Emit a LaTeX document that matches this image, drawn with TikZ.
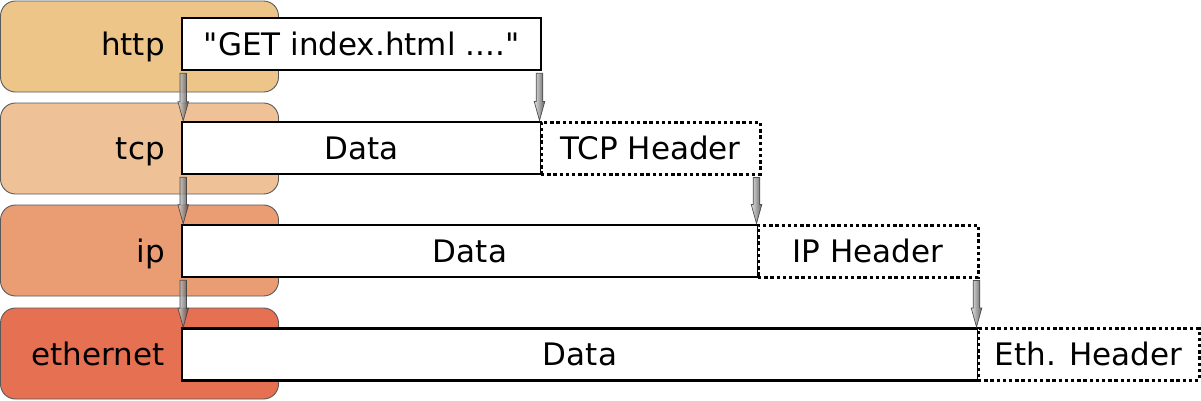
\documentclass[tikz,border=0pt]{standalone}
\usepackage{fontspec}
\setmainfont{DejaVu Sans}[Ligatures=TeXOff]
\usetikzlibrary{calc}
\definecolor{chttp}{HTML}{EDC588}
\definecolor{ctcp}{HTML}{EFC197}
\definecolor{cip}{HTML}{EA9D73}
\definecolor{ceth}{HTML}{E67052}
\tikzset{
  layerbox/.style={draw=black!65, line width=0.9pt, rounded corners=15pt, minimum width=278pt, minimum height=91pt, inner sep=0pt},
  layerlabel/.style={anchor=base east, inner sep=0pt, font=\fontsize{31}{36}\selectfont},
  databox/.style={draw=black, line width=2.6pt, fill=white, inner sep=0pt, minimum height=52pt, text height=22pt, text depth=0pt, font=\fontsize{31}{36}\selectfont},
  headerbox/.style={databox, line width=3pt, dash pattern=on 3.4pt off 2.8pt},
  arrowsty/.style={left color=black!15, right color=black!75, draw=black!75, line width=0.7pt, fill opacity=0.8, draw opacity=0.9}
}
\newcommand\blockarrow[3][0pt]{%
  \shadedraw[arrowsty] let \p1=(#2), \p2=(#3) in
  (\x2+#1-3.3pt,\y1-2pt) -- (\x2+#1+3.3pt,\y1-2pt) -- (\x2+#1+3.3pt,\y2+19pt) --
  (\x2+#1+5.3pt,\y2+19pt) -- (\x2+#1,\y2) -- (\x2+#1-5.3pt,\y2+19pt) --
  (\x2+#1-3.3pt,\y2+19pt) -- cycle;}
\begin{document}
\begin{tikzpicture}[x=1pt,y=-1pt]
\useasboundingbox (0,0) rectangle (1201,400);
% layer boxes
\node[layerbox, fill=chttp] (lhttp) at (139.5,46.5) {};
\node[layerbox, fill=ctcp] (ltcp) at (139.5,148.5) {};
\node[layerbox, fill=cip] (lip) at (139.5,250.5) {};
\node[layerbox, fill=ceth] (leth) at (139.5,353.5) {};
\node[layerlabel] (thttp) at (165,55) {http};
\node[layerlabel] (ttcp) at (165,159) {tcp};
\node[layerlabel] (tip) at (165,262) {ip};
\node[layerlabel] (teth) at (165,365.5) {ethernet};
% data boxes
\node[databox, minimum width=359pt] (httpd) at (361.5,44) {"GET index.html ...."};
\node[databox, minimum width=359pt] (tcpd) at (361.5,148) {Data};
\node[headerbox, minimum width=219pt] (tcph) at (650.5,148) {TCP Header};
\node[databox, minimum width=576pt] (ipd) at (470,251) {Data};
\node[headerbox, minimum width=220pt] (iph) at (868,251) {IP Header};
\node[databox, minimum width=796pt] (ethd) at (580,354.5) {Data};
\node[headerbox, minimum width=221pt] (ethh) at (1088.5,354.5) {Eth. Header};
% arrows
\blockarrow[2.5pt]{httpd.south west}{tcpd.north west}
\blockarrow{httpd.south east}{tcph.north west}
\blockarrow[2.5pt]{tcpd.south west}{ipd.north west}
\blockarrow{tcph.south east}{iph.north west}
\blockarrow[2.5pt]{ipd.south west}{ethd.north west}
\blockarrow{iph.south east}{ethh.north west}
\end{tikzpicture}
\end{document}
